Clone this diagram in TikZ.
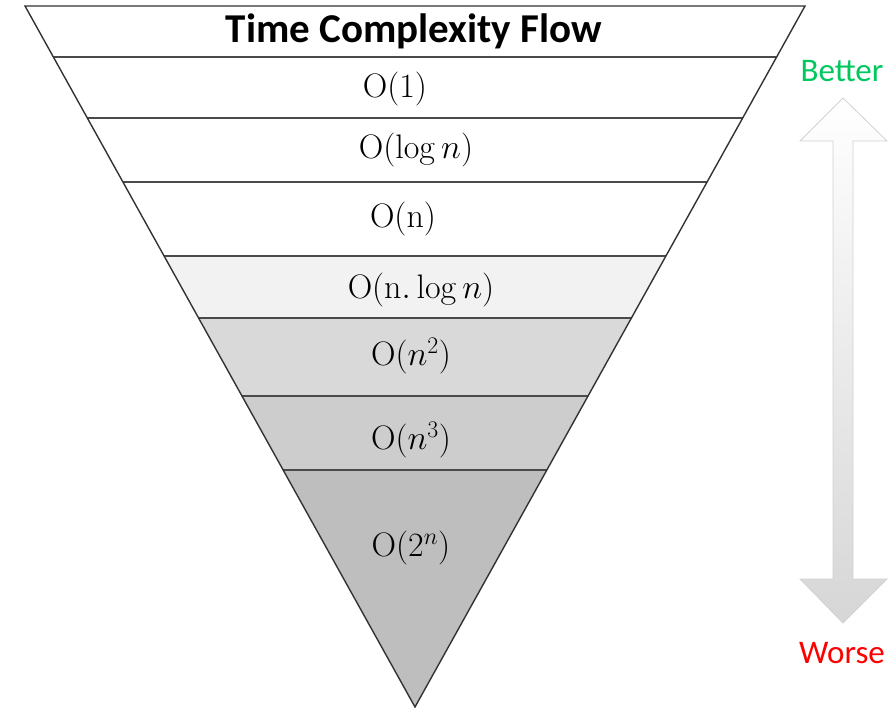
\RequirePackage{fix-cm}
\documentclass[tikz,border=0pt]{standalone}
\usepackage[no-math]{fontspec}
\setmainfont{Carlito}
\definecolor{bandA}{HTML}{F2F2F2}
\definecolor{bandB}{HTML}{D9D9D9}
\definecolor{bandC}{HTML}{CDCDCD}
\definecolor{bandD}{HTML}{BEBEBE}
\definecolor{edge}{HTML}{333333}
\definecolor{sep}{HTML}{4A4A4A}
\definecolor{better}{RGB}{0,200,95}
\definecolor{worse}{RGB}{255,0,0}
\begin{document}
\begin{tikzpicture}[x=1pt,y=-1pt,
  lbl/.style={inner sep=0pt,font=\fontsize{34}{38}\selectfont},
  ttl/.style={inner sep=0pt,font=\fontsize{41}{46}\selectfont\bfseries},
  side/.style={inner sep=0pt,font=\fontsize{33}{38}\selectfont},
  sepline/.style={draw=sep,line width=1.6pt},
  arrowshape/.style={draw=gray!35,line width=0.8pt,top color=white,middle color=white,bottom color=gray!32}]
\useasboundingbox (0,0) rectangle (889,708);
\coordinate (TL) at (25,6);
\coordinate (TR) at (805,6);
\coordinate (AP) at (415,707);
\begin{scope}
  \clip (TL) -- (TR) -- (AP) -- cycle;
  \fill[white] (0,0) rectangle (889,256);
  \fill[bandA] (0,256) rectangle (889,318);
  \fill[bandB] (0,318) rectangle (889,396);
  \fill[bandC] (0,396) rectangle (889,470);
  \fill[bandD] (0,470) rectangle (889,708);
  \foreach \yy in {57,118,182,256,318,396,470}
    \draw[sepline] (0,\yy) -- (889,\yy);
\end{scope}
\draw[edge,line width=1.4pt,line join=miter] (TL) -- (TR) -- (AP) -- cycle;
\node[ttl] (title) at (414,31) {Time Complexity Flow};
\node[lbl] (o1) at (395,89) {$\mathrm{O}(1)$};
\node[lbl] (olog) at (416,150) {$\mathrm{O}(\log n)$};
\node[lbl] (on) at (403,219) {$\mathrm{O}(\mathrm{n})$};
\node[lbl] (onlog) at (421,290) {$\mathrm{O}(\mathrm{n}.\log n)$};
\node[lbl] (on2) at (411,356) {$\mathrm{O}(n^2)$};
\node[lbl] (on3) at (411,440) {$\mathrm{O}(n^3)$};
\node[lbl] (o2n) at (411,548) {$\mathrm{O}(2^n)$};
\path[arrowshape] (843,98) -- (887,141) -- (853,141) -- (853,579) -- (887,579)
  -- (843,623) -- (800,579) -- (833,579) -- (833,141) -- (800,141) -- cycle;
\node[side,text=better] (bt) at (842,71) {Better};
\node[side,text=worse] (ws) at (842,653) {Worse};
\end{tikzpicture}
\end{document}
